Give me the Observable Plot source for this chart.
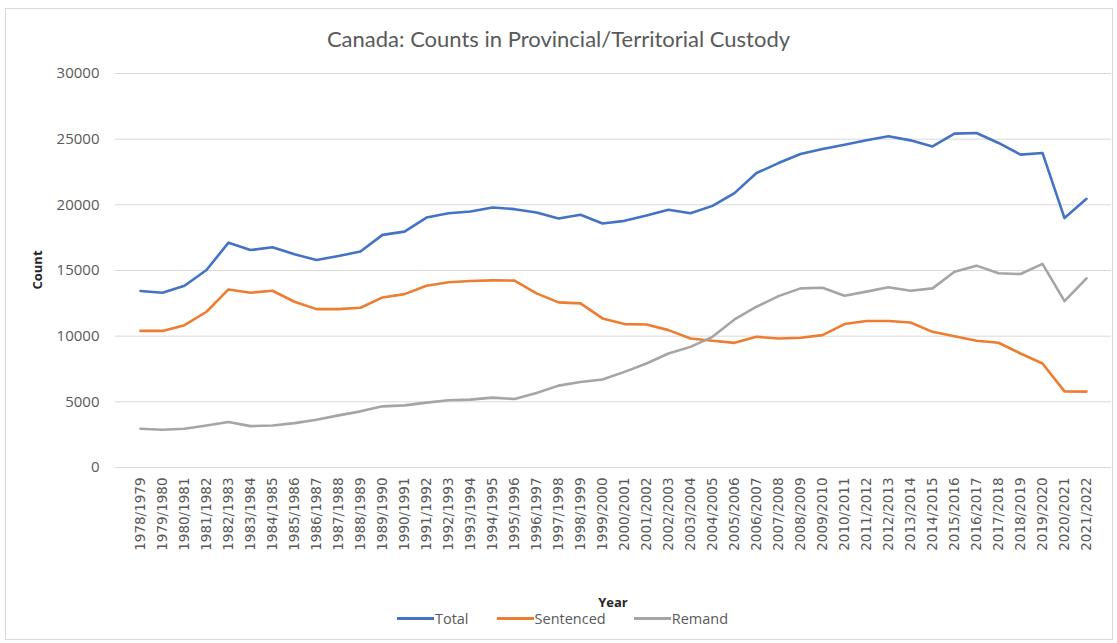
<!DOCTYPE html>
<html>
<head>
<meta charset="utf-8">
<script src="https://cdn.jsdelivr.net/npm/d3@7"></script>
<script src="https://cdn.jsdelivr.net/npm/@observablehq/plot@0.6"></script>
<style>
  html, body { margin: 0; padding: 0; background: #fff; }
  #wrap { position: relative; width: 1117px; height: 643px; overflow: hidden; font-family: "Open Sans", sans-serif; }
  #frame { position: absolute; left: 5px; top: 8px; width: 1108px; height: 632px; border: 1px solid #d9d9d9; box-sizing: border-box; }
  #chart { position: absolute; left: 0; top: 0; }
  #title { position: absolute; left: 0; width: 1117px; top: 25px; text-align: center; font-family: Lato, "Open Sans", sans-serif; font-size: 22px; color: #595959; }
  #ylab { position: absolute; left: 37px; top: 270px; transform: translate(-50%, -50%) rotate(-90deg); font-size: 13px; font-weight: bold; color: #262626; white-space: nowrap; }
  #xlab { position: absolute; left: 613px; top: 602px; transform: translate(-50%, -50%); font-size: 13px; font-weight: bold; color: #262626; }
  #legend { position: absolute; top: 609px; left: 4px; width: 1117px; display: flex; justify-content: center; gap: 28px; font-size: 14.5px; color: #595959; }
  .item { display: flex; align-items: center; }
  .sw { display: inline-block; width: 37px; height: 3px; margin-right: 1px; }
</style>
</head>
<body>
<div id="wrap">
  <div id="frame"></div>
  <div id="chart"></div>
  <div id="title">Canada: Counts in Provincial/Territorial Custody</div>
  <div id="ylab">Count</div>
  <div id="xlab">Year</div>
  <div id="legend"></div>
</div>
<script>
const categories = ["1978/1979","1979/1980","1980/1981","1981/1982","1982/1983","1983/1984","1984/1985","1985/1986","1986/1987","1987/1988","1988/1989","1989/1990","1990/1991","1991/1992","1992/1993","1993/1994","1994/1995","1995/1996","1996/1997","1997/1998","1998/1999","1999/2000","2000/2001","2001/2002","2002/2003","2003/2004","2004/2005","2005/2006","2006/2007","2007/2008","2008/2009","2009/2010","2010/2011","2011/2012","2012/2013","2013/2014","2014/2015","2015/2016","2016/2017","2017/2018","2018/2019","2019/2020","2020/2021","2021/2022"];

const total = [13440,13310,13840,15040,17120,16560,16770,16230,15800,16110,16440,17710,17960,19030,19360,19490,19800,19670,19410,18960,19240,18580,18780,19190,19620,19360,19920,20890,22420,23180,23870,24250,24580,24910,25220,24910,24450,25420,25470,24710,23820,23950,18990,20460];

const sentenced = [10400,10400,10840,11860,13560,13310,13460,12620,12060,12060,12160,12950,13200,13840,14100,14200,14250,14230,13260,12570,12500,11350,10920,10890,10460,9820,9645,9490,9950,9820,9880,10080,10920,11150,11150,11045,10330,10000,9645,9500,8680,7915,5800,5780];

const remand = [2950,2875,2950,3200,3460,3150,3200,3380,3640,3970,4275,4657,4730,4940,5115,5165,5320,5215,5670,6235,6515,6700,7280,7915,8680,9185,9950,11275,12240,13050,13640,13690,13080,13390,13720,13460,13640,14910,15370,14790,14730,15500,12670,14400];

const seriesNames = ["Total", "Sentenced", "Remand"];
const seriesColors = ["#4472C4", "#ED7D31", "#A5A5A5"];
const yTicks = [0, 5000, 10000, 15000, 20000, 25000, 30000];

const seriesValues = [total, sentenced, remand];
const rows = [];
seriesNames.forEach((name, s) => {
  categories.forEach((c, i) => rows.push({series: name, year: c, value: seriesValues[s][i]}));
});

const chart = Plot.plot({
  width: 1117,
  height: 610,
  marginTop: 73,
  marginBottom: 143,
  marginLeft: 115,
  marginRight: 6,
  style: {background: "transparent", fontFamily: "Open Sans, sans-serif"},
  x: {type: "point", domain: categories, padding: 0.5},
  y: {domain: [0, 30000]},
  color: {domain: seriesNames, range: seriesColors},
  marks: [
    Plot.gridY(yTicks, {stroke: "#d9d9d9", strokeOpacity: 1, strokeWidth: 1}),
    Plot.axisY(yTicks, {tickSize: 0, tickPadding: 16, label: null, tickFormat: d => String(d), fontSize: 15, fill: "#595959"}),
    Plot.axisX({tickSize: 0, tickPadding: 10, tickRotate: -90, label: null, fontSize: 13.5, fill: "#595959", fontFamily: "DejaVu Sans, sans-serif"}),
    Plot.line(rows, {x: "year", y: "value", z: "series", stroke: "series", strokeWidth: 2.6, strokeLinejoin: "round"})
  ]
});
document.getElementById("chart").appendChild(chart);

const legend = document.getElementById("legend");
seriesNames.forEach((n, i) => {
  const it = document.createElement("div");
  it.className = "item";
  const sw = document.createElement("span");
  sw.className = "sw";
  sw.style.background = seriesColors[i];
  it.appendChild(sw);
  it.appendChild(document.createTextNode(n));
  legend.appendChild(it);
});
</script>
</body>
</html>
